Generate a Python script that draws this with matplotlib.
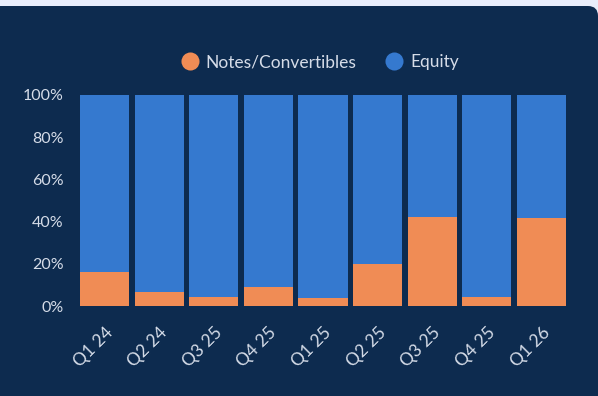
import matplotlib.pyplot as plt
from matplotlib.patches import FancyBboxPatch
from matplotlib.lines import Line2D
from matplotlib.ticker import FuncFormatter
from matplotlib.transforms import ScaledTranslation

# ===== DATA =====
quarters = ["Q1 24", "Q2 24", "Q3 25", "Q4 25", "Q1 25", "Q2 25", "Q3 25", "Q4 25", "Q1 26"]
notes_pct = [16, 6.5, 4.3, 9, 3.8, 20, 42.3, 4.4, 41.8]
equity_pct = [100 - v for v in notes_pct]

# ===== STYLE =====
BG_OUTER = "#e9eefc"
BG_CARD = "#0d2b4f"
ORANGE = "#f08c55"
BLUE = "#3579cf"
TEXT = "#d5dce8"
plt.rcParams["font.family"] = ["Lato", "DejaVu Sans"]

fig = plt.figure(figsize=(5.98, 3.96), dpi=100, facecolor=BG_OUTER)

# dark card behind the chart
card = FancyBboxPatch((-0.2, -0.3), 6.18, 4.2,
                      boxstyle="round,pad=0,rounding_size=0.1",
                      transform=fig.dpi_scale_trans,
                      facecolor=BG_CARD, edgecolor="none", zorder=-5)
fig.patches.append(card)

ax = fig.add_axes([80 / 598, (396 - 306) / 396, (566 - 80) / 598, (306 - 95) / 396])
ax.set_facecolor("none")
ax.set_zorder(2)

x = range(len(quarters))
ax.bar(x, notes_pct, width=0.9, color=ORANGE, label="Notes/Convertibles", zorder=2)
ax.bar(x, equity_pct, width=0.9, bottom=notes_pct, color=BLUE, label="Equity", zorder=2)

ax.set_xlim(-0.45, len(quarters) - 0.55)
ax.set_ylim(0, 100)
ax.set_yticks([0, 20, 40, 60, 80, 100])
ax.yaxis.set_major_formatter(FuncFormatter(lambda v, p: f"{v:.0f}%"))
ax.set_xticks(list(x))
ax.set_xticklabels(quarters, rotation=45, ha="right", rotation_mode="anchor")
shift = ScaledTranslation(8 / 100, 0, fig.dpi_scale_trans)
for lbl in ax.get_xticklabels():
    lbl.set_transform(lbl.get_transform() + shift)
    lbl.set_fontsize(12.5)
ax.tick_params(axis="y", length=0, colors=TEXT, labelsize=11.5, pad=12)
ax.tick_params(axis="x", length=0, colors=TEXT, pad=13)
for s in ax.spines.values():
    s.set_visible(False)

# ===== LEGEND =====
handles = [
    Line2D([], [], marker="o", linestyle="none", markersize=13,
           markerfacecolor=ORANGE, markeredgecolor="none", label="Notes/Convertibles"),
    Line2D([], [], marker="o", linestyle="none", markersize=13,
           markerfacecolor=BLUE, markeredgecolor="none", label="Equity"),
]
leg = fig.legend(handles=handles, loc="center", bbox_to_anchor=(319 / 598, 1 - 62 / 396),
                 ncol=2, frameon=False, fontsize=12.5, labelcolor=TEXT,
                 handletextpad=0.3, columnspacing=1.6, handlelength=1.2)

fig.savefig("out.png", dpi=100, facecolor=BG_OUTER)
